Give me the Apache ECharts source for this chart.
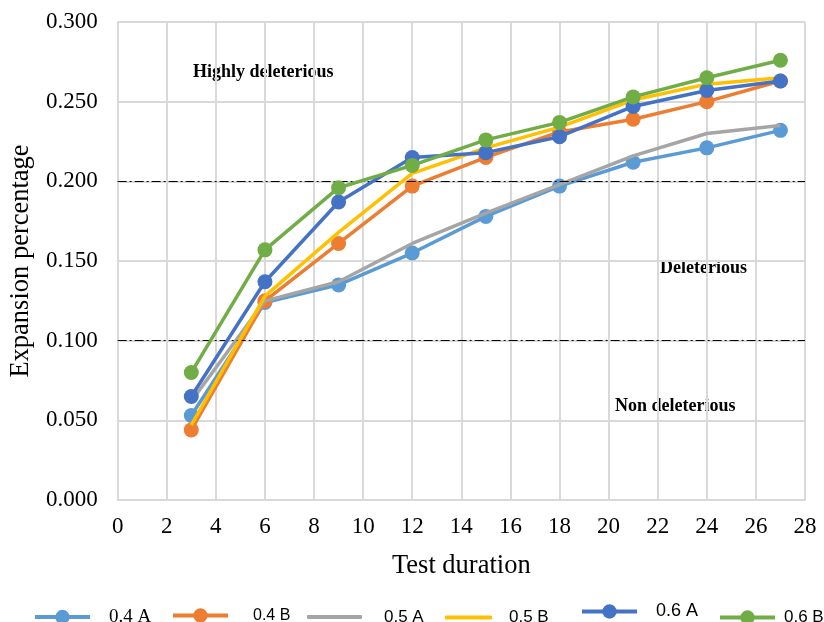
<!DOCTYPE html>
<html><head><meta charset="utf-8">
<script src="https://cdn.jsdelivr.net/npm/echarts@6/dist/echarts.min.js"></script>
<style>html,body{margin:0;padding:0;background:#fff}#c{width:824px;height:622px}</style>
</head><body><div id="c"></div>
<script>
const days = [3, 6, 9, 12, 15, 18, 21, 24, 27];
const s04A = [0.053, 0.124, 0.135, 0.155, 0.178, 0.197, 0.212, 0.221, 0.232];
const s04B = [0.044, 0.125, 0.161, 0.197, 0.215, 0.231, 0.239, 0.250, 0.263];
const s05A = [0.062, 0.125, 0.137, 0.161, 0.180, 0.198, 0.216, 0.230, 0.235];
const s05B = [0.047, 0.128, 0.168, 0.205, 0.221, 0.234, 0.251, 0.261, 0.265];
const s06A = [0.065, 0.137, 0.187, 0.215, 0.218, 0.228, 0.247, 0.257, 0.263];
const s06B = [0.080, 0.157, 0.196, 0.210, 0.226, 0.237, 0.253, 0.265, 0.276];
const names = ['0.4 A', '0.4 B', '0.5 A', '0.5 B', '0.6 A', '0.6 B'];
const colors = ['#5B9BD5', '#ED7D31', '#A5A5A5', '#FFC000', '#4472C4', '#70AD47'];
const hasMarker = [true, true, false, false, true, true];
const values = [s04A, s04B, s05A, s05B, s06A, s06B];
const thresholds = [0.2, 0.1];
const zoneLabels = ['Highly deleterious', 'Deleterious', 'Non deleterious'];

const chart = echarts.init(document.getElementById('c'));
const serif = '"Liberation Serif", "Times New Roman", serif';
const sans = '"Liberation Sans", Arial, sans-serif';

const series = names.map((n, i) => ({
  name: n, type: 'line',
  data: days.map((d, j) => [d, values[i][j]]),
  symbol: hasMarker[i] ? 'circle' : 'none',
  symbolSize: 15,
  showSymbol: hasMarker[i],
  itemStyle: { color: colors[i] },
  lineStyle: { color: colors[i], width: 3.5 },
  z: 2 + i
}));
series.push({
  type: 'line', data: [], silent: true,
  markLine: {
    symbol: 'none', silent: true, label: { show: false },
    lineStyle: { color: '#000', width: 1.2, type: [9, 3, 2, 3] },
    data: thresholds.map(v => ({ yAxis: v }))
  }
});

// legend layout per item
const lgLeft = [33, 171, 307, 445, 580, 718];
const lgW = [55, 55, 55, 47, 55, 55];
const lgPadL = [14, 20, 17, 12, 14, 4];
const lgFont = [serif, sans, sans, sans, sans, sans];
const lgSize = [19, 16, 17, 17, 18, 17];
const lgPadB = [19, 22, 19, 18, 30, 18];
const legends = names.map((n, i) => {
  const H = Math.max(18, lgSize[i] + lgPadB[i]);
  const item = hasMarker[i] ? { name: n } : { name: n, icon: 'roundRect' };
  const ih = hasMarker[i] ? 18 : 4;
  return {
    data: [item], left: lgLeft[i], top: 617.5 - H / 2 + 9,
    itemWidth: lgW[i], itemHeight: ih, itemGap: 0, padding: 0,
    lineStyle: { width: 4 },
    textStyle: { fontFamily: lgFont[i], fontSize: lgSize[i], color: '#000', padding: [0, 0, lgPadB[i], lgPadL[i]] }
  };
});

chart.setOption({
  animation: false,
  backgroundColor: '#fff',
  color: colors,
  grid: { left: 117, right: 19, top: 22, bottom: 122 },
  legend: legends,
  xAxis: {
    type: 'value', min: 0, max: 28, interval: 2,
    name: 'Test duration', nameLocation: 'middle', nameGap: 53,
    nameTextStyle: { fontFamily: serif, fontSize: 26.5, color: '#000' },
    axisLine: { show: true, lineStyle: { color: '#d9d9d9', width: 2 } },
    axisTick: { show: false },
    axisLabel: { fontFamily: serif, fontSize: 23, color: '#000', margin: 15 },
    splitLine: { show: true, lineStyle: { color: '#d9d9d9', width: 2 } }
  },
  yAxis: {
    type: 'value', min: 0, max: 0.3, interval: 0.05,
    name: 'Expansion percentage', nameLocation: 'middle', nameGap: 79,
    nameTextStyle: { fontFamily: serif, fontSize: 26.5, color: '#000' },
    axisLine: { show: true, lineStyle: { color: '#d9d9d9', width: 2 } },
    axisTick: { show: false },
    axisLabel: { fontFamily: serif, fontSize: 23, color: '#000', margin: 20, formatter: v => v.toFixed(3) },
    splitLine: { show: true, lineStyle: { color: '#d9d9d9', width: 2 } }
  },
  graphic: [
    { type: 'text', left: 193, top: 63, style: { text: zoneLabels[0], font: 'bold 18px ' + serif, fill: '#000' } },
    { type: 'text', left: 660, top: 259, style: { text: zoneLabels[1], font: 'bold 18px ' + serif, fill: '#000' } },
    { type: 'text', left: 615, top: 397, style: { text: zoneLabels[2], font: 'bold 18px ' + serif, fill: '#000' } }
  ],
  series: series
});
</script></body></html>
